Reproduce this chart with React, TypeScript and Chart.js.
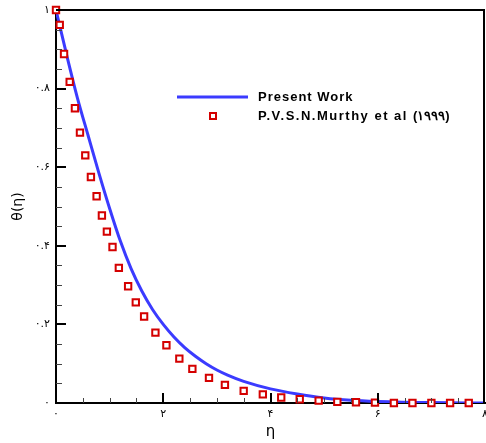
import React, { useEffect, useRef } from 'react';
import { Chart, registerables } from 'chart.js';

Chart.register(...registerables);

// Present work (solid line)
const etaPresent = [0, 0.2, 0.4, 0.6, 0.8, 1.0, 1.2, 1.4, 1.6, 1.8, 2.0, 2.2, 2.4, 2.6, 2.8, 3.0, 3.2, 3.5, 4.0, 4.5, 5.0, 5.5, 6.0, 7.0, 8.0];
const thetaPresent = [1.0, 0.885, 0.776, 0.68, 0.585, 0.495, 0.412, 0.342, 0.285, 0.238, 0.2, 0.168, 0.141, 0.119, 0.1, 0.084, 0.071, 0.055, 0.036, 0.023, 0.013, 0.007, 0.004, 0.001, 0.0];

// P.V.S.N. Murthy et al (1999) (square markers)
const etaMurthy = [0, 0.07, 0.15, 0.255, 0.353, 0.447, 0.546, 0.651, 0.757, 0.856, 0.949, 1.054, 1.172, 1.345, 1.488, 1.643, 1.854, 2.059, 2.3, 2.543, 2.853, 3.15, 3.5, 3.857, 4.2, 4.545, 4.898, 5.246, 5.594, 5.948, 6.301, 6.647, 7.0, 7.349, 7.697];
const thetaMurthy = [1.0, 0.962, 0.888, 0.817, 0.75, 0.688, 0.63, 0.575, 0.526, 0.477, 0.436, 0.397, 0.344, 0.297, 0.256, 0.22, 0.179, 0.147, 0.113, 0.087, 0.064, 0.046, 0.031, 0.022, 0.014, 0.0095, 0.006, 0.003, 0.002, 0.001, 0, 0, 0, 0, 0];

const xTickValues = [0, 2, 4, 6, 8];
const xTickLabels = ['۰', '۲', '۴', '۶', '۸'];
const yTickValues = [0, 0.2, 0.4, 0.6, 0.8, 1];
const yTickLabels = ['۰', '۰.۲', '۰.۴', '۰.۶', '۰.۸', '۱'];

const seriesNames = ['Present Work', 'P.V.S.N.Murthy et al (۱۹۹۹)'];
const xTitle = 'η';
const yTitle = 'θ(η)';

const LINE_COLOR = '#3b3bff';
const MARK_COLOR = '#d40000';
const TICK_FONT = '"DejaVu Sans", sans-serif';

const framePlugin = {
  id: 'frameTicks',
  afterDraw(chart: any) {
    const { ctx, chartArea, scales } = chart;
    const xs = scales.x;
    const ys = scales.y;
    ctx.save();
    // frame top & right
    ctx.strokeStyle = '#000';
    ctx.lineWidth = 2;
    ctx.beginPath();
    ctx.moveTo(chartArea.left, chartArea.top);
    ctx.lineTo(chartArea.right - 1, chartArea.top);
    ctx.lineTo(chartArea.right - 1, chartArea.bottom);
    ctx.stroke();
    // x ticks (inward)
    for (let i = 1; i < 16; i++) {
      const v = i * 0.5;
      const px = Math.round(xs.getPixelForValue(v));
      const major = i % 4 === 0;
      ctx.beginPath();
      ctx.lineWidth = major ? 2 : 1;
      ctx.strokeStyle = major ? '#000' : '#444';
      ctx.moveTo(px + (major ? 0 : 0.5), chartArea.bottom);
      ctx.lineTo(px + (major ? 0 : 0.5), chartArea.bottom - (major ? 10 : 5));
      ctx.stroke();
    }
    // y ticks (inward)
    for (let i = 1; i < 20; i++) {
      const v = i * 0.05;
      const py = Math.round(ys.getPixelForValue(v));
      const major = i % 4 === 0;
      ctx.beginPath();
      ctx.lineWidth = major ? 2 : 1;
      ctx.strokeStyle = major ? '#000' : '#444';
      ctx.moveTo(chartArea.left, py + (major ? 0 : 0.5));
      ctx.lineTo(chartArea.left + (major ? 10 : 6), py + (major ? 0 : 0.5));
      ctx.stroke();
    }
    // x tick labels
    ctx.font = `11px ${TICK_FONT}`;
    ctx.fillStyle = '#000';
    ctx.textAlign = 'center';
    ctx.textBaseline = 'middle';
    xTickValues.forEach((v, i) => {
      ctx.fillText(xTickLabels[i], xs.getPixelForValue(v), chartArea.bottom + 11);
    });
    // legend
    ctx.font = 'bold 13px "Liberation Sans", Arial, sans-serif';
    try { (ctx as any).letterSpacing = '1px'; } catch (e) {}
    ctx.fillStyle = '#000';
    ctx.textBaseline = 'middle';
    ctx.textAlign = 'left';
    ctx.strokeStyle = LINE_COLOR;
    ctx.lineWidth = 3;
    ctx.beginPath();
    ctx.moveTo(177, 97);
    ctx.lineTo(248, 97);
    ctx.stroke();
    ctx.fillText(seriesNames[0], 258, 97);
    ctx.fillStyle = '#fff';
    ctx.fillRect(210, 113, 6, 6);
    ctx.strokeStyle = MARK_COLOR;
    ctx.lineWidth = 2;
    ctx.strokeRect(210, 113, 6, 6);
    ctx.fillStyle = '#000';
    try { (ctx as any).letterSpacing = '1.5px'; } catch (e) {}
    ctx.fillText(seriesNames[1], 258, 116);
    ctx.restore();
  },
};

export default function App() {
  const ref = useRef<HTMLCanvasElement>(null);
  useEffect(() => {
    const chart = new Chart(ref.current as HTMLCanvasElement, {
      type: 'scatter',
      data: {
        datasets: [
          {
            label: seriesNames[1],
            data: etaMurthy.map((x, i) => ({ x, y: thetaMurthy[i] })),
            showLine: false,
            pointStyle: 'rect',
            pointRadius: 4.5,
            pointBorderWidth: 2,
            pointBorderColor: MARK_COLOR,
            pointBackgroundColor: '#fff',
            borderColor: MARK_COLOR,
            backgroundColor: '#fff',
            clip: false,
          },
          {
            label: seriesNames[0],
            data: etaPresent.map((x, i) => ({ x, y: thetaPresent[i] })),
            showLine: true,
            borderColor: LINE_COLOR,
            borderWidth: 3,
            pointRadius: 0,
            cubicInterpolationMode: 'monotone',
            fill: false,
          },
        ],
      },
      options: {
        animation: false,
        responsive: false,
        maintainAspectRatio: false,
        layout: { autoPadding: false, padding: { top: 10, right: 1, left: 0, bottom: 0 } },
        plugins: { legend: { display: false }, tooltip: { enabled: false } },
        scales: {
          x: {
            type: 'linear',
            min: 0,
            max: 8,
            afterBuildTicks: (s: any) => { s.ticks = xTickValues.map((v) => ({ value: v })); },
            afterFit: (s: any) => { s.height = 40; },
            ticks: { display: false },
            grid: { display: false, drawTicks: false },
            border: { display: true, color: '#000', width: 2 },
            title: {
              display: true,
              text: xTitle,
              color: '#000',
              font: { family: TICK_FONT, size: 15 },
              padding: { top: 0, bottom: 2 },
            },
          },
          y: {
            type: 'linear',
            min: 0,
            max: 1,
            afterBuildTicks: (s: any) => { s.ticks = yTickValues.map((v) => ({ value: v })); },
            afterFit: (s: any) => { s.width = 56; s.paddingTop = 0; s.paddingBottom = 0; },
            ticks: {
              callback: (_v: any, i: number) => yTickLabels[i],
              font: { family: TICK_FONT, size: 11 },
              color: '#000',
              padding: 6,
              autoSkip: false,
            },
            grid: { display: false, drawTicks: false },
            border: { display: true, color: '#000', width: 2 },
            title: {
              display: true,
              text: yTitle,
              color: '#000',
              font: { family: TICK_FONT, size: 14 },
              padding: { top: 10, bottom: 0 },
            },
          },
        },
      },
      plugins: [framePlugin],
    } as any);
    return () => chart.destroy();
  }, []);
  return (
    <div style={{ position: 'absolute', left: 0, top: 0, width: 486, height: 443, background: '#fff' }}>
      <canvas ref={ref} width={486} height={443} style={{ display: 'block' }} />
    </div>
  );
}
